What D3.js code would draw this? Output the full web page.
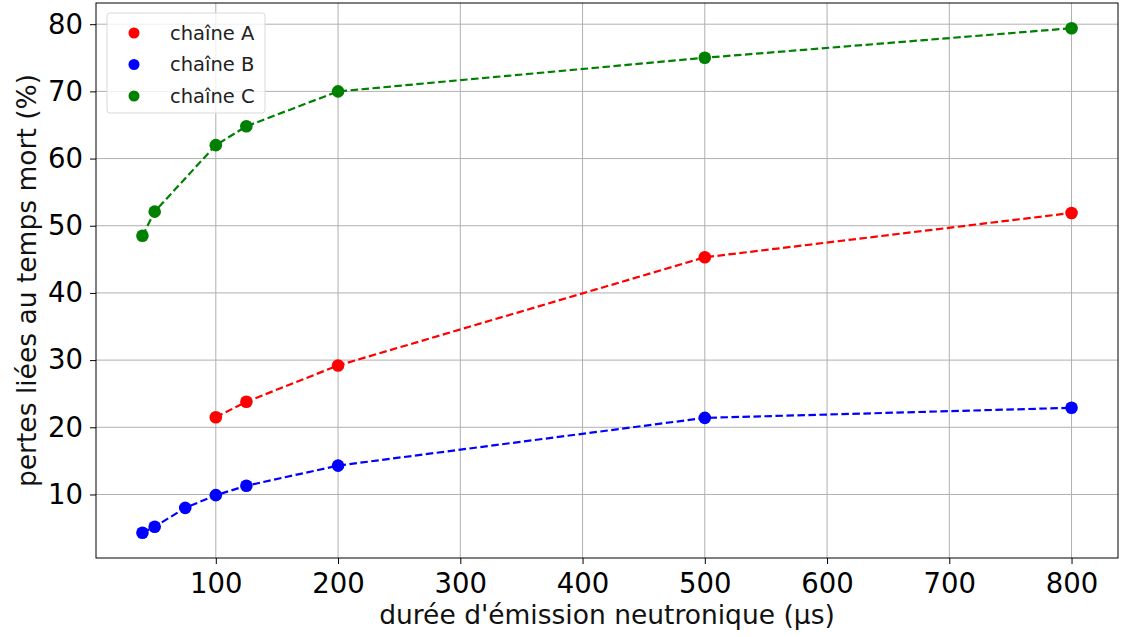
<!DOCTYPE html>
<html><head><meta charset="utf-8">
<script src="https://cdn.jsdelivr.net/npm/d3@7"></script>
<style>body{margin:0;background:#fff;} text{font-family:"DejaVu Sans",sans-serif;}</style>
</head><body><svg id="c" width="1121" height="637"></svg>
<script>
const seriesNames = ["chaîne A", "chaîne B", "chaîne C"];
const seriesColors = ["#ff0000", "#0000ff", "#008000"];
const xA = [100, 125, 200, 500, 800];
const yA = [21.5, 23.8, 29.2, 45.3, 51.9];
const xB = [40, 50, 75, 100, 125, 200, 500, 800];
const yB = [4.3, 5.2, 8.0, 9.9, 11.3, 14.3, 21.4, 22.9];
const xC = [40, 50, 100, 125, 200, 500, 800];
const yC = [48.5, 52.1, 62.0, 64.8, 70.0, 75.0, 79.4];
const xTicks = [100, 200, 300, 400, 500, 600, 700, 800];
const yTicks = [10, 20, 30, 40, 50, 60, 70, 80];
const xLabel = "durée d'émission neutronique (µs)";
const yLabel = "pertes liées au temps mort (%)";

const series = [
  {name: seriesNames[0], color: seriesColors[0], pts: xA.map((x,i)=>[x,yA[i]])},
  {name: seriesNames[1], color: seriesColors[1], pts: xB.map((x,i)=>[x,yB[i]])},
  {name: seriesNames[2], color: seriesColors[2], pts: xC.map((x,i)=>[x,yC[i]])}
];

const L = 96, R = 1118, T = 3, B = 558;
const allX = [...xA, ...xB, ...xC], allY = [...yA, ...yB, ...yC];
const xmin = d3.min(allX), xmax = d3.max(allX), ymin = d3.min(allY), ymax = d3.max(allY);
const xm = (xmax - xmin) * 0.05, ym = (ymax - ymin) * 0.05;
const x = d3.scaleLinear().domain([xmin - xm, xmax + xm]).range([L, R]);
const y = d3.scaleLinear().domain([ymin - ym, ymax + ym]).range([B, T]);

const svg = d3.select("#c");
// grid
const g = svg.append("g");
g.selectAll(".gx").data(xTicks).join("line")
  .attr("x1", d=>x(d)).attr("x2", d=>x(d)).attr("y1", T).attr("y2", B)
  .attr("stroke", "#b0b0b0").attr("stroke-width", 1);
g.selectAll(".gy").data(yTicks).join("line")
  .attr("y1", d=>y(d)).attr("y2", d=>y(d)).attr("x1", L).attr("x2", R)
  .attr("stroke", "#b0b0b0").attr("stroke-width", 1);

// axes
const xAxis = svg.append("g").attr("transform", `translate(0,${B})`)
  .call(d3.axisBottom(x).tickValues(xTicks).tickSize(6).tickPadding(6).tickFormat(d3.format("d")));
xAxis.select(".domain").remove();
xAxis.selectAll(".tick line").attr("stroke", "#000");
xAxis.selectAll("text").attr("font-size", 27.5).attr("fill", "#000")
  .attr("dy", null).attr("y", 35);
const yAxis = svg.append("g").attr("transform", `translate(${L},0)`)
  .call(d3.axisLeft(y).tickValues(yTicks).tickSize(6).tickPadding(7).tickFormat(d3.format("d")));
yAxis.select(".domain").remove();
yAxis.selectAll(".tick line").attr("stroke", "#000");
yAxis.selectAll("text").attr("font-size", 27.5).attr("fill", "#000");

// lines & points
const line = d3.line().x(d=>x(d[0])).y(d=>y(d[1]));
series.forEach(s => {
  svg.append("path").attr("d", line(s.pts)).attr("fill", "none")
    .attr("stroke", s.color).attr("stroke-width", 2.2).attr("stroke-dasharray", "7.5,3.5");
  svg.append("g").selectAll("circle").data(s.pts).join("circle")
    .attr("cx", d=>x(d[0])).attr("cy", d=>y(d[1])).attr("r", 6.3).attr("fill", s.color);
});

// frame
svg.append("rect").attr("x", L).attr("y", T).attr("width", R-L).attr("height", B-T)
  .attr("fill", "none").attr("stroke", "#000").attr("stroke-width", 1);

// axis labels
svg.append("text").attr("x", (L+R)/2).attr("y", 624).attr("text-anchor", "middle")
  .attr("font-size", 26.5).attr("fill", "#111").text(xLabel);
svg.append("text").attr("transform", `translate(36,${(T+B)/2}) rotate(-90)`)
  .attr("text-anchor", "middle").attr("font-size", 26.5).attr("fill", "#111").text(yLabel);

// legend
const lg = svg.append("g");
lg.append("rect").attr("x", 107).attr("y", 13).attr("width", 158).attr("height", 100).attr("rx", 3)
  .attr("fill", "#fff").attr("fill-opacity", 0.8).attr("stroke", "#d9d9d9");
series.forEach((s, i) => {
  lg.append("circle").attr("cx", 134).attr("cy", 33 + i*31.5).attr("r", 5.5).attr("fill", s.color);
  lg.append("text").attr("x", 170).attr("y", 33 + i*31.5).attr("dy", "0.35em")
    .attr("font-size", 19.5).attr("fill", "#222").text(s.name);
});
</script></body></html>
